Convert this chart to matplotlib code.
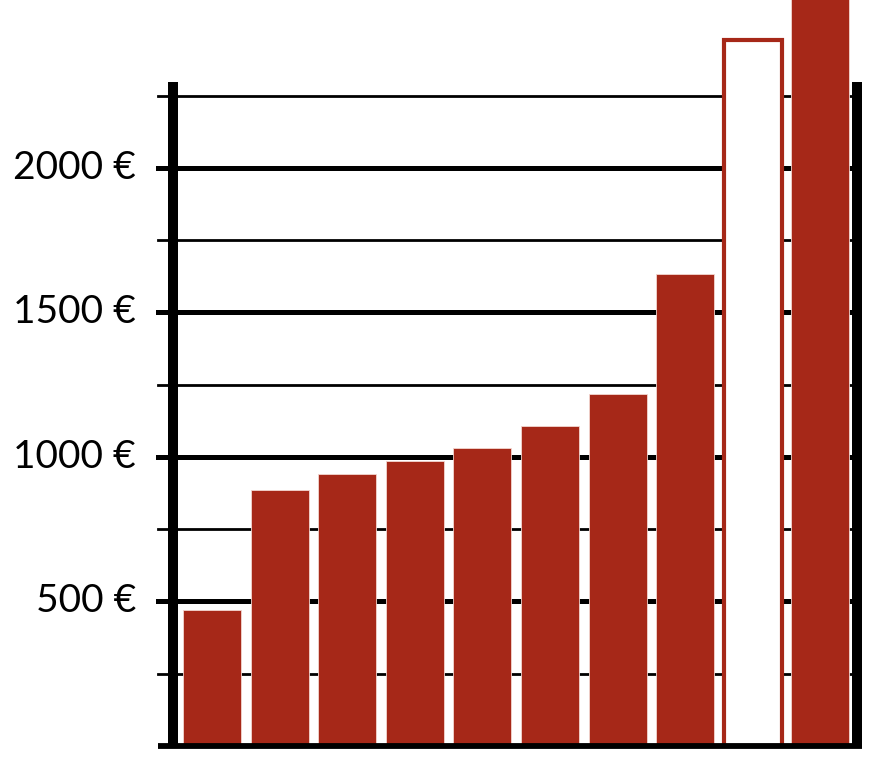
import matplotlib
matplotlib.use("Agg")
import matplotlib.pyplot as plt
import numpy as np

# data
values = [470, 886, 941, 986, 1031, 1107, 1218, 1633, 2443, 2700]
hollow = [False, False, False, False, False, False, False, False, True, False]
major_ticks = [500, 1000, 1500, 2000]
minor_ticks = [250, 750, 1250, 1750, 2250]
tick_labels = ["500 €", "1000 €", "1500 €", "2000 €"]

red = "#a62818"

fig = plt.figure(figsize=(8.72, 7.69), dpi=100)
W, H = 872, 769
ax = fig.add_axes([173 / W, (H - 746) / H, (857 - 173) / W, (746 - 82) / H])

x = np.arange(len(values))
for i in range(len(values)):
    if hollow[i]:
        ax.bar(x[i], values[i], width=0.86, color="white", edgecolor=red,
               linewidth=3, zorder=3, clip_on=False)
    else:
        ax.bar(x[i], values[i], width=0.86, color=red, edgecolor="#f3d6d0",
               linewidth=0.6, zorder=3, clip_on=False)

ax.set_xlim(-0.577, 9.541)
ax.set_ylim(0, 2297)

ext = 15 / 684
for y in major_ticks:
    ax.axhline(y, xmin=-ext, xmax=1, color="black", lw=3.6, zorder=1, clip_on=False)
for y in minor_ticks:
    ax.axhline(y, xmin=-ext, xmax=1, color="black", lw=2.0, zorder=1, clip_on=False)
ax.axhline(0, xmin=-ext, xmax=(862 - 173) / 684, color="black", lw=4.2, zorder=4,
           clip_on=False, solid_capstyle="butt")

for s in ["top", "bottom"]:
    ax.spines[s].set_visible(False)
for s in ["left", "right"]:
    ax.spines[s].set_linewidth(7.2)
    ax.spines[s].set_capstyle("butt")
    ax.spines[s].set_zorder(5)

ax.set_xticks([])
ax.set_yticks([])

for y, lab in zip(major_ticks, tick_labels):
    ax.text(-37 / 684, y, lab, transform=ax.get_yaxis_transform(), ha="right",
            va="center", fontsize=28, family=["Lato", "DejaVu Sans"])

fig.savefig("out.png", dpi=100)
